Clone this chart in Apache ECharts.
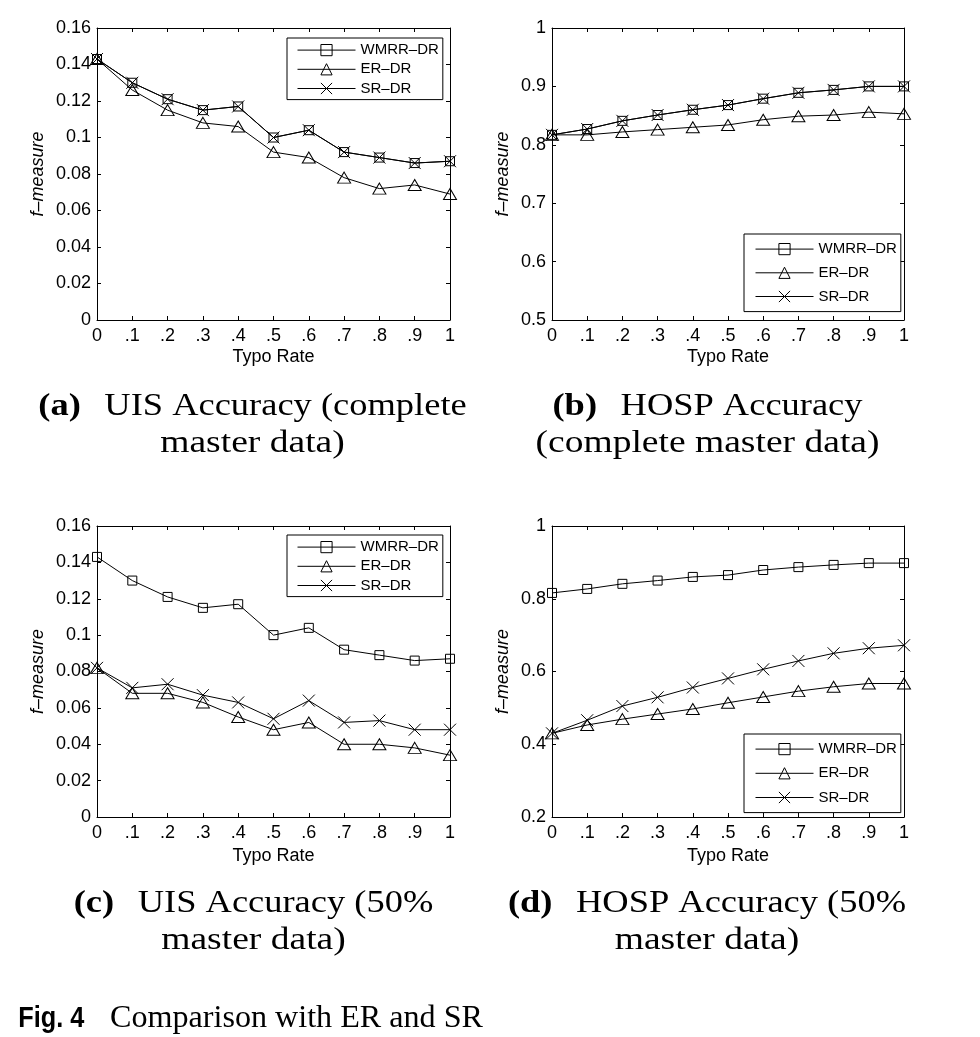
<!DOCTYPE html>
<html><head><meta charset="utf-8">
<script src="https://cdn.jsdelivr.net/npm/echarts@6/dist/echarts.min.js"></script>
<style>html,body{margin:0;padding:0;background:#fff}#c{width:980px;height:1037px}</style>
</head><body><div id="c"></div>
<script>
// ---------- data ----------
const typoRates = ['0', '.1', '.2', '.3', '.4', '.5', '.6', '.7', '.8', '.9', '1'];
const seriesNames = ['WMRR–DR', 'ER–DR', 'SR–DR'];

const uisFullWMRR = [0.143, 0.130, 0.121, 0.115, 0.117, 0.100, 0.104, 0.092, 0.089, 0.086, 0.087];
const uisFullER   = [0.143, 0.126, 0.115, 0.108, 0.106, 0.092, 0.089, 0.078, 0.072, 0.074, 0.069];
const uisFullSR   = [0.143, 0.130, 0.121, 0.115, 0.117, 0.100, 0.104, 0.092, 0.089, 0.086, 0.087];

const hospFullWMRR = [0.817, 0.827, 0.841, 0.851, 0.860, 0.868, 0.879, 0.889, 0.894, 0.900, 0.900];
const hospFullER   = [0.817, 0.817, 0.822, 0.826, 0.830, 0.834, 0.843, 0.849, 0.851, 0.856, 0.853];
const hospFullSR   = [0.817, 0.827, 0.841, 0.851, 0.860, 0.868, 0.879, 0.889, 0.894, 0.900, 0.900];

const uisHalfWMRR = [0.143, 0.130, 0.121, 0.115, 0.117, 0.100, 0.104, 0.092, 0.089, 0.086, 0.087];
const uisHalfER   = [0.082, 0.068, 0.068, 0.063, 0.055, 0.048, 0.052, 0.040, 0.040, 0.038, 0.034];
const uisHalfSR   = [0.082, 0.071, 0.073, 0.067, 0.063, 0.054, 0.064, 0.052, 0.053, 0.048, 0.048];

const hospHalfWMRR = [0.816, 0.827, 0.841, 0.850, 0.860, 0.865, 0.879, 0.887, 0.893, 0.898, 0.898];
const hospHalfER   = [0.430, 0.453, 0.469, 0.483, 0.497, 0.514, 0.530, 0.546, 0.558, 0.567, 0.567];
const hospHalfSR   = [0.430, 0.466, 0.505, 0.529, 0.556, 0.581, 0.606, 0.629, 0.650, 0.664, 0.672];

const captionLabels = ['(a)', '(b)', '(c)', '(d)'];
const captionLine1 = ['UIS Accuracy (complete', 'HOSP Accuracy', 'UIS Accuracy (50%', 'HOSP Accuracy (50%'];
const captionLine2 = ['master data)', '(complete master data)', 'master data)', 'master data)'];
const figLabel = 'Fig. 4';
const figText = 'Comparison with ER and SR';
const yAxisTitle = 'f–measure';
const xAxisTitle = 'Typo Rate';

// ---------- layout ----------
const panels = [
  { data: [uisFullWMRR, uisFullER, uisFullSR], min: 0, max: 0.16, interval: 0.02,
    grid: { left: 97, top: 28, width: 353, height: 292 }, yGap: 50, xGap: 28,
    legend: { left: 287, top: 38, padding: [4, 4, 3, 10], itemGap: 3 } },
  { data: [hospFullWMRR, hospFullER, hospFullSR], min: 0.5, max: 1, interval: 0.1,
    grid: { left: 552, top: 28, width: 352, height: 292 }, yGap: 40, xGap: 28,
    legend: { left: 744, top: 234, padding: [7, 4, 7, 11], itemGap: 7.5 } },
  { data: [uisHalfWMRR, uisHalfER, uisHalfSR], min: 0, max: 0.16, interval: 0.02,
    grid: { left: 97, top: 526, width: 353, height: 291 }, yGap: 50, xGap: 30,
    legend: { left: 287, top: 535, padding: [4, 4, 3, 10], itemGap: 3 } },
  { data: [hospHalfWMRR, hospHalfER, hospHalfSR], min: 0.2, max: 1, interval: 0.2,
    grid: { left: 552, top: 526, width: 352, height: 291 }, yGap: 40, xGap: 30,
    legend: { left: 744, top: 734, padding: [7, 4, 7, 11], itemGap: 8 } }
];

const sans = 'Liberation Sans';
const serif = 'Liberation Serif';
const symbolDefs = [
  { symbol: 'rect', symbolSize: 9 },
  { symbol: 'triangle', symbolSize: [13, 11] },
  { symbol: 'path://M0,0L10,10M10,0L0,10', symbolSize: 12 }
];

const grids = [], xAxes = [], yAxes = [], series = [], legends = [];
panels.forEach((p, i) => {
  grids.push(Object.assign({ containLabel: false, outerBoundsMode: 'none' }, p.grid));
  const lineAx = { show: true, onZero: false, lineStyle: { color: '#000', width: 1 } };
  const tickAx = { show: true, inside: true, length: 4, lineStyle: { color: '#000', width: 1 } };
  xAxes.push({
    type: 'category', gridIndex: i, data: typoRates, boundaryGap: false, position: 'bottom',
    axisLine: lineAx, axisTick: Object.assign({ interval: 0 }, tickAx),
    axisLabel: { show: true, interval: 0, margin: 7, color: '#000', fontSize: 18, fontFamily: sans },
    splitLine: { show: false },
    name: xAxisTitle, nameLocation: 'middle', nameGap: p.xGap, nameMoveOverlap: false,
    nameTextStyle: { color: '#000', fontSize: 18, fontFamily: sans }
  });
  xAxes.push({
    type: 'category', gridIndex: i, data: typoRates, boundaryGap: false, position: 'top',
    axisLine: lineAx, axisTick: Object.assign({ interval: 0 }, tickAx),
    axisLabel: { show: false }, splitLine: { show: false }
  });
  yAxes.push({
    type: 'value', gridIndex: i, min: p.min, max: p.max, interval: p.interval, position: 'left',
    axisLine: lineAx, axisTick: tickAx,
    axisLabel: { show: true, margin: 6, color: '#000', fontSize: 18, fontFamily: sans, showMinLabel: true, showMaxLabel: true },
    splitLine: { show: false },
    name: yAxisTitle, nameLocation: 'middle', nameGap: p.yGap, nameMoveOverlap: false,
    nameTextStyle: { color: '#000', fontSize: 18, fontFamily: sans, fontStyle: 'italic' }
  });
  yAxes.push({
    type: 'value', gridIndex: i, min: p.min, max: p.max, interval: p.interval, position: 'right',
    axisLine: lineAx, axisTick: tickAx, axisLabel: { show: false }, splitLine: { show: false }
  });
  p.data.forEach((vals, k) => {
    series.push({
      type: 'line', name: seriesNames[k], xAxisIndex: 2 * i, yAxisIndex: 2 * i, data: vals,
      symbol: symbolDefs[k].symbol, symbolSize: symbolDefs[k].symbolSize, showSymbol: true,
      clip: false, silent: true, animation: false,
      lineStyle: { color: '#000', width: 1 },
      itemStyle: { color: 'none', borderColor: '#000', borderWidth: 1 },
      emphasis: { disabled: true }, z: 2 + k
    });
  });
  legends.push({
    show: true, orient: 'vertical', left: p.legend.left, top: p.legend.top,
    padding: p.legend.padding, itemGap: p.legend.itemGap, align: 'left',
    itemWidth: 58, itemHeight: 14, selectedMode: false,
    backgroundColor: '#fff', borderColor: '#000', borderWidth: 1, borderRadius: 0,
    lineStyle: { color: '#000', width: 1 },
    itemStyle: { color: 'none', borderColor: '#000', borderWidth: 1 },
    data: seriesNames,
    textStyle: { color: '#000', fontSize: 15, fontFamily: sans, lineHeight: 15 },
    z: 10
  });
});

// ---------- captions ----------
const ctx = document.createElement('canvas').getContext('2d');
function tw(font, s) { ctx.font = font; return ctx.measureText(s).width; }
const capSize = 31;
const capBold = 'bold ' + capSize + 'px "' + serif + '"';
const capReg = capSize + 'px "' + serif + '"';
const capGap = 20;
const capScale = 428.4 / (tw(capBold, captionLabels[0]) + capGap + tw(capReg, captionLine1[0]));
const capCenters = [252.5, 707.5, 253.5, 707];
const capMid1 = [407.2, 407.2, 903.8, 903.8];
const capMid2 = [443.8, 443.8, 940.5, 940.5];
const graphics = [];
function txt(x, y, text, font, sx, align) {
  graphics.push({ type: 'text', x: x, y: y, scaleX: sx, silent: true, z: 100,
    style: { text: text, font: font, fill: '#000', align: align || 'left', verticalAlign: 'middle',
             textAlign: align || 'left', textVerticalAlign: 'middle' } });
}
for (let i = 0; i < 4; i++) {
  const wb = tw(capBold, captionLabels[i]);
  const wr = tw(capReg, captionLine1[i]);
  const total = capScale * (wb + capGap + wr);
  const x0 = capCenters[i] - total / 2;
  txt(x0, capMid1[i], captionLabels[i], capBold, capScale);
  txt(x0 + capScale * (wb + capGap), capMid1[i], captionLine1[i], capReg, capScale);
  txt(capCenters[i], capMid2[i], captionLine2[i], capReg, capScale * 1.03, 'center');
}
const figBoldFont = 'bold 30px "' + sans + '"';
const figSerifFont = '32px "' + serif + '"';
txt(18.3, 1018.5, figLabel, figBoldFont, 66 / tw(figBoldFont, figLabel));
txt(110, 1018.5, figText, figSerifFont, 373 / tw(figSerifFont, figText));

const chart = echarts.init(document.getElementById('c'), null, { renderer: 'canvas' });
chart.setOption({
  animation: false,
  backgroundColor: '#fff',
  grid: grids, xAxis: xAxes, yAxis: yAxes, series: series, legend: legends,
  graphic: { elements: graphics }
});
</script>
</body></html>
